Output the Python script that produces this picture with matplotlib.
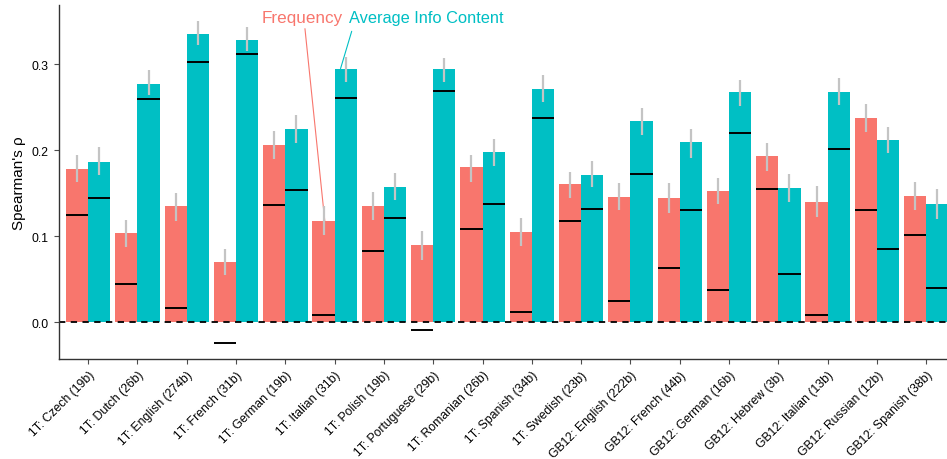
import numpy as np
import matplotlib
matplotlib.use("Agg")
import matplotlib.pyplot as plt

plt.rcParams['font.family'] = ['Liberation Sans', 'DejaVu Sans']

categories = ["1T: Czech (19b)", "1T: Dutch (26b)", "1T: English (274b)", "1T: French (31b)",
              "1T: German (19b)", "1T: Italian (31b)", "1T: Polish (19b)", "1T: Portuguese (29b)",
              "1T: Romanian (26b)", "1T: Spanish (34b)", "1T: Swedish (23b)", "GB12: English (222b)",
              "GB12: French (44b)", "GB12: German (16b)", "GB12: Hebrew (3b)", "GB12: Italian (13b)",
              "GB12: Russian (12b)", "GB12: Spanish (38b)"]

# frequency: observed rho, baseline median, interval
freq = [0.178, 0.104, 0.135, 0.070, 0.206, 0.118, 0.135, 0.090, 0.181, 0.105, 0.161, 0.146,
        0.1445, 0.153, 0.193, 0.140, 0.238, 0.147]
freq_med = [0.125, 0.044, 0.017, -0.024, 0.136, 0.0085, 0.083, -0.009, 0.108, 0.012, 0.118, 0.025,
            0.063, 0.037, 0.155, 0.009, 0.131, 0.102]
freq_lo = [0.163, 0.088, 0.118, 0.055, 0.190, 0.102, 0.119, 0.072, 0.1635, 0.089, 0.145, 0.130,
           0.1275, 0.137, 0.176, 0.1225, 0.221, 0.131]
freq_hi = [0.195, 0.119, 0.150, 0.085, 0.223, 0.135, 0.152, 0.1065, 0.195, 0.121, 0.175, 0.162,
           0.162, 0.1674, 0.209, 0.159, 0.254, 0.163]

# average information content
aic = [0.186, 0.277, 0.335, 0.328, 0.225, 0.295, 0.157, 0.294, 0.198, 0.271, 0.171, 0.234,
       0.2097, 0.268, 0.156, 0.268, 0.212, 0.1376]
aic_med = [0.145, 0.260, 0.303, 0.312, 0.154, 0.261, 0.121, 0.269, 0.138, 0.237, 0.132, 0.173,
           0.130, 0.2205, 0.0558, 0.201, 0.0856, 0.040]
aic_lo = [0.171, 0.264, 0.322, 0.315, 0.208, 0.279, 0.142, 0.280, 0.182, 0.2565, 0.157, 0.218,
          0.191, 0.252, 0.140, 0.2523, 0.197, 0.1205]
aic_hi = [0.204, 0.293, 0.350, 0.343, 0.241, 0.308, 0.174, 0.307, 0.2135, 0.287, 0.1875, 0.249,
          0.2244, 0.282, 0.1725, 0.2845, 0.227, 0.1547]

red = "#F8766D"
teal = "#00BFC4"
w = 0.45

fig = plt.figure(figsize=(9.47, 4.6), dpi=100)
ax = fig.add_axes([0.0618, 0.2174, 0.9382, 0.7696])

x = np.arange(len(categories))
xf = x - w / 2
xa = x + w / 2

ax.bar(xf, freq, width=w, color=red, zorder=1)
ax.bar(xa, aic, width=w, color=teal, zorder=1)

ax.axhline(0, color="black", lw=1.3, ls=(0, (3.5, 3)), zorder=2)

ax.hlines(freq_med, xf - w / 2, xf + w / 2, color="black", lw=1.4, zorder=3)
ax.hlines(aic_med, xa - w / 2, xa + w / 2, color="black", lw=1.4, zorder=3)

ax.vlines(xf, freq_lo, freq_hi, color="#C4C4C4", lw=1.6, zorder=4)
ax.vlines(xa, aic_lo, aic_hi, color="#C4C4C4", lw=1.6, zorder=4)

ax.set_xlim(-0.6, 17.42)
ax.set_ylim(-0.0427, 0.369)
ax.set_yticks([0.0, 0.1, 0.2, 0.3])
ax.set_yticklabels(["0.0", "0.1", "0.2", "0.3"])
ax.set_xticks(x)
ax.set_xticklabels(categories, rotation=45, ha="right", va="top", rotation_mode="anchor")

ax.tick_params(axis="both", labelsize=8.8, colors="#4D4D4D", length=3.5, width=0.8)
for lab in ax.get_xticklabels() + ax.get_yticklabels():
    lab.set_color("black")
ax.set_ylabel("Spearman's ρ", fontsize=11)

for s in ["top", "right"]:
    ax.spines[s].set_visible(False)
for s in ["left", "bottom"]:
    ax.spines[s].set_color("#333333")
    ax.spines[s].set_linewidth(1.0)

# series labels with leader lines to the Italian bars
ax.annotate("Frequency", xy=(5 - 0.2, freq[5]), xytext=(4.34, 0.355), color=red,
            fontsize=12.3, ha="center", va="center",
            arrowprops=dict(arrowstyle="-", color=red, lw=0.8, relpos=(0.53, 0.0),
                            shrinkA=1, shrinkB=0))
ax.annotate("Average Info Content", xy=(5 + 0.12, aic[5]), xytext=(6.86, 0.355), color=teal,
            fontsize=11.8, ha="center", va="center",
            arrowprops=dict(arrowstyle="-", color=teal, lw=0.8, relpos=(0.03, 0.0),
                            shrinkA=3, shrinkB=0))

fig.savefig("out.png", dpi=100)
